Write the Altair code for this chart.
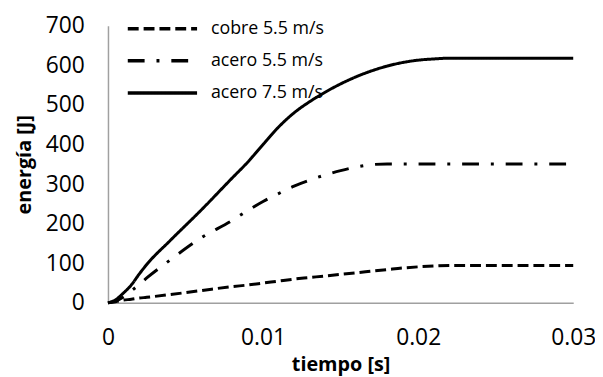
import altair as alt
import pandas as pd

t = [0, 0.0005, 0.001, 0.0015, 0.002, 0.0025, 0.004, 0.006, 0.008, 0.009, 0.010,
     0.011, 0.012, 0.013, 0.014, 0.015, 0.016, 0.017, 0.018, 0.019, 0.020,
     0.021, 0.022, 0.025, 0.030]
cobre_55 = [0, 3, 7, 9, 12, 14, 21, 31, 41, 45, 50, 55, 60, 64, 68, 72, 76, 80,
            84, 88, 91, 93, 94.5, 94.5, 94.5]
acero_55 = [0, 5, 15, 30, 46, 63, 108, 164, 208, 233, 256, 276, 295, 310, 323,
            334, 343, 349, 351, 351, 351, 351, 351, 351, 351]
acero_75 = [0, 8, 25, 45, 72, 97, 157, 234, 315, 355, 400, 444, 480, 508, 532,
            553, 571, 586, 598, 607, 613, 616, 618, 618, 618]

series = ["cobre 5.5 m/s", "acero 5.5 m/s", "acero 7.5 m/s"]
values = [cobre_55, acero_55, acero_75]
dashes = [[11, 5], [17, 12, 3, 12], [1, 0]]

rows = []
for name, vals in zip(series, values):
    for ti, v in zip(t, vals):
        rows.append({"t": ti, "E": v, "serie": name})
df = pd.DataFrame(rows)

FONT = "Open Sans"

chart = alt.Chart(df).mark_line(color="black", strokeWidth=3, interpolate="monotone").encode(
    x=alt.X("t:Q", scale=alt.Scale(domain=[0, 0.03], nice=False),
            axis=alt.Axis(title="tiempo [s]", values=[0, 0.01, 0.02, 0.03], format="~g",
                          grid=False, ticks=False, labelPadding=24, titlePadding=5,
                          domainColor="#a0a0a0", domainWidth=1.5,
                          labelFontSize=23, titleFontSize=20, labelFont=FONT,
                          titleFont=FONT, titleFontWeight="bold", labelColor="black",
                          titleColor="black", labelFlush=False)),
    y=alt.Y("E:Q", scale=alt.Scale(domain=[0, 700], nice=False),
            axis=alt.Axis(title="energía [J]", values=list(range(0, 701, 100)),
                          grid=False, ticks=False, labelPadding=24, titlePadding=11,
                          domainColor="#a0a0a0", domainWidth=1.5,
                          labelFontSize=23, titleFontSize=20, labelFont=FONT,
                          titleFont=FONT, titleFontWeight="bold", labelColor="black",
                          titleColor="black")),
    strokeDash=alt.StrokeDash("serie:N", scale=alt.Scale(domain=series, range=dashes),
                              sort=series,
                              legend=alt.Legend(title=None, orient="none", legendX=18,
                                                legendY=-7, symbolType="stroke",
                                                symbolSize=4900, symbolStrokeWidth=3.5,
                                                symbolStrokeColor="black",
                                                labelFontSize=18, labelFont=FONT,
                                                labelColor="black", labelOffset=12,
                                                clipHeight=20, rowPadding=12.5)),
).properties(
    width=470, height=280,
    autosize=alt.AutoSizeParams(type="none"),
    padding={"left": 101, "top": 16, "right": 22, "bottom": 73},
).configure_view(stroke=None)

chart.save("out.html", embed_options={"renderer": "svg", "actions": False})
